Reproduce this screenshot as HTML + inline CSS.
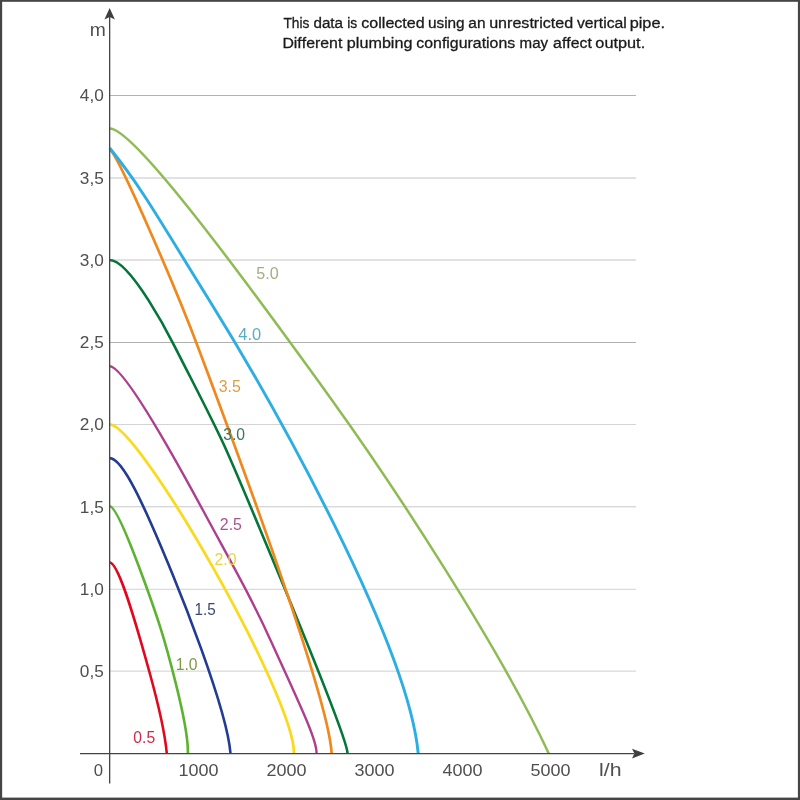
<!DOCTYPE html>
<html lang="en">
<head>
<meta charset="utf-8">
<title>Pump performance curves</title>
<style>
html,body{margin:0;padding:0;background:#fff;}
body{width:800px;height:800px;overflow:hidden;position:relative;font-family:"Liberation Sans",sans-serif;}
svg{position:absolute;left:0;top:0;display:block;}
text{font-family:"Liberation Sans",sans-serif;font-kerning:none;}
.ax{fill:#4f4f4f;}
.note{fill:#1a1a1a;stroke:#1a1a1a;stroke-width:0.3px;}
</style>
</head>
<body>
<svg width="800" height="800" viewBox="0 0 800 800">
<rect x="0" y="0" width="800" height="800" fill="#ffffff"/>
<!-- horizontal grid lines -->
<g fill="none">
<line x1="109.6" y1="95.50" x2="636" y2="95.50" stroke="#b2b2b2" stroke-width="1.00"/>
<line x1="109.6" y1="178.00" x2="636" y2="178.00" stroke="#c4c4c4" stroke-width="1.00"/>
<line x1="109.6" y1="260.00" x2="636" y2="260.00" stroke="#c4c4c4" stroke-width="1.00"/>
<line x1="109.6" y1="342.50" x2="636" y2="342.50" stroke="#b0b0b0" stroke-width="1.00"/>
<line x1="109.6" y1="424.50" x2="636" y2="424.50" stroke="#d4d4d4" stroke-width="1.00"/>
<line x1="109.6" y1="506.80" x2="636" y2="506.80" stroke="#c8c8c8" stroke-width="1.00"/>
<line x1="109.6" y1="589.30" x2="636" y2="589.30" stroke="#d2d2d2" stroke-width="1.00"/>
<line x1="109.6" y1="671.10" x2="636" y2="671.10" stroke="#cfcfcf" stroke-width="1.00"/>
</g>
<!-- pump curves -->
<g fill="none" stroke-linecap="butt" stroke-linejoin="round">
<path d="M109.70 128.50 C132.20 128.50 224.91 251.54 331.48 399.40 C392.18 483.60 500.20 648.53 548.75 753.50" stroke="#8fbb55" stroke-width="2.50"/>
<path d="M109.70 260.00 C130.75 260.00 171.71 340.55 174.24 345.54 C223.04 441.50 218.25 429.44 259.82 528.75 C273.49 561.41 348.20 739.45 347.50 753.50" stroke="#04763a" stroke-width="2.60"/>
<path d="M109.70 149.20 C118.25 155.57 174.02 283.19 199.27 350.43 C233.85 442.54 329.33 697.60 331.60 753.50" stroke="#ef881d" stroke-width="2.70"/>
<path d="M109.70 148.00 C141.97 187.96 158.70 218.79 209.43 300.50 C274.23 404.86 408.12 643.63 418.20 753.50" stroke="#2daee3" stroke-width="2.90"/>
<path d="M109.70 366.25 C123.48 366.25 170.11 449.46 202.81 510.00 C237.24 573.76 250.07 595.30 272.15 643.75 C301.23 707.57 317.14 740.66 316.50 753.50" stroke="#ad3f8e" stroke-width="2.40"/>
<path d="M109.70 424.40 C139.41 425.16 294.89 697.24 294.00 753.50" stroke="#f9da1c" stroke-width="2.80"/>
<path d="M109.70 458.10 C122.61 458.10 143.48 503.42 172.34 573.75 C175.42 581.24 226.88 706.78 230.50 753.50" stroke="#213c92" stroke-width="2.60"/>
<path d="M109.70 506.25 C120.00 506.25 158.83 622.65 160.85 629.04 C162.76 635.06 189.26 724.32 187.80 753.50" stroke="#5bb331" stroke-width="2.60"/>
<path d="M109.70 562.50 C117.77 563.03 131.35 606.42 149.56 672.50 C150.32 675.25 164.38 726.25 166.80 753.50" stroke="#e0081f" stroke-width="2.60"/>
</g>
<!-- curve labels -->
<g>
<text x="256.25" y="278.90" font-size="15.60" textLength="22.48" lengthAdjust="spacingAndGlyphs" fill="#9fb082">5.0</text>
<text x="238.37" y="340.00" font-size="15.60" textLength="22.87" lengthAdjust="spacingAndGlyphs" fill="#58adc3">4.0</text>
<text x="218.80" y="391.50" font-size="15.60" textLength="22.07" lengthAdjust="spacingAndGlyphs" fill="#dc9c48">3.5</text>
<text x="223.15" y="439.50" font-size="15.60" textLength="21.86" lengthAdjust="spacingAndGlyphs" fill="#34775a">3.0</text>
<text x="219.80" y="530.10" font-size="15.60" textLength="22.12" lengthAdjust="spacingAndGlyphs" fill="#a8578c">2.5</text>
<text x="214.50" y="564.50" font-size="15.60" textLength="22.02" lengthAdjust="spacingAndGlyphs" fill="#e6d640">2.0</text>
<text x="194.44" y="615.10" font-size="15.60" textLength="21.20" lengthAdjust="spacingAndGlyphs" fill="#3c4870">1.5</text>
<text x="175.71" y="669.60" font-size="15.60" textLength="21.81" lengthAdjust="spacingAndGlyphs" fill="#7d9a42">1.0</text>
<text x="133.39" y="743.00" font-size="15.60" textLength="21.77" lengthAdjust="spacingAndGlyphs" fill="#cc2a48">0.5</text>
</g>
<!-- axes -->
<g stroke="#454545" stroke-width="1.3" fill="none">
<line x1="109.65" y1="17" x2="109.65" y2="783.6"/>
<line x1="80" y1="753.6" x2="634" y2="753.6"/>
</g>
<polygon points="109.65,8 114.9,19.6 109.65,17 104.4,19.6" fill="#3f3f3f"/>
<polygon points="644.8,753.6 632,748.7 634.4,753.6 632,758.5" fill="#3f3f3f"/>
<!-- axis labels -->
<g>
<text x="79.80" y="101.30" font-size="17.00" textLength="23.97" lengthAdjust="spacingAndGlyphs" class="ax">4,0</text>
<text x="79.80" y="183.60" font-size="17.00" textLength="23.97" lengthAdjust="spacingAndGlyphs" class="ax">3,5</text>
<text x="79.80" y="265.90" font-size="17.00" textLength="23.97" lengthAdjust="spacingAndGlyphs" class="ax">3,0</text>
<text x="79.80" y="348.20" font-size="17.00" textLength="23.97" lengthAdjust="spacingAndGlyphs" class="ax">2,5</text>
<text x="79.80" y="430.40" font-size="17.00" textLength="23.97" lengthAdjust="spacingAndGlyphs" class="ax">2,0</text>
<text x="79.80" y="512.70" font-size="17.00" textLength="23.97" lengthAdjust="spacingAndGlyphs" class="ax">1,5</text>
<text x="79.80" y="595.00" font-size="17.00" textLength="23.97" lengthAdjust="spacingAndGlyphs" class="ax">1,0</text>
<text x="79.80" y="677.20" font-size="17.00" textLength="23.97" lengthAdjust="spacingAndGlyphs" class="ax">0,5</text>
<text x="93.75" y="776.40" font-size="17.00" textLength="9.31" lengthAdjust="spacingAndGlyphs" class="ax">0</text>
<text x="178.60" y="776.40" font-size="17.00" textLength="40.00" lengthAdjust="spacingAndGlyphs" class="ax">1000</text>
<text x="266.60" y="776.40" font-size="17.00" textLength="40.00" lengthAdjust="spacingAndGlyphs" class="ax">2000</text>
<text x="354.60" y="776.40" font-size="17.00" textLength="40.00" lengthAdjust="spacingAndGlyphs" class="ax">3000</text>
<text x="442.60" y="776.40" font-size="17.00" textLength="40.00" lengthAdjust="spacingAndGlyphs" class="ax">4000</text>
<text x="530.60" y="776.40" font-size="17.00" textLength="40.00" lengthAdjust="spacingAndGlyphs" class="ax">5000</text>
<text x="599.06" y="776.10" font-size="18.40" textLength="22.52" lengthAdjust="spacingAndGlyphs" class="ax">l/h</text>
<text x="89.72" y="35.80" font-size="17.80" textLength="16.05" lengthAdjust="spacingAndGlyphs" class="ax">m</text>
</g>
<!-- note -->
<g>
<text class="note" y="28.30" font-size="15.20"><tspan x="283.39" textLength="26.01" lengthAdjust="spacingAndGlyphs">This</tspan> <tspan x="313.46" textLength="29.54" lengthAdjust="spacingAndGlyphs">data</tspan> <tspan x="347.27" textLength="10.03" lengthAdjust="spacingAndGlyphs">is</tspan> <tspan x="361.32" textLength="63.32" lengthAdjust="spacingAndGlyphs">collected</tspan> <tspan x="427.90" textLength="36.79" lengthAdjust="spacingAndGlyphs">using</tspan> <tspan x="468.34" textLength="17.16" lengthAdjust="spacingAndGlyphs">an</tspan> <tspan x="489.15" textLength="84.08" lengthAdjust="spacingAndGlyphs">unrestricted</tspan> <tspan x="576.95" textLength="49.91" lengthAdjust="spacingAndGlyphs">vertical</tspan> <tspan x="629.65" textLength="35.34" lengthAdjust="spacingAndGlyphs">pipe.</tspan></text>
<text class="note" y="47.90" font-size="15.20"><tspan x="282.40" textLength="59.92" lengthAdjust="spacingAndGlyphs">Different</tspan> <tspan x="346.86" textLength="65.58" lengthAdjust="spacingAndGlyphs">plumbing</tspan> <tspan x="416.33" textLength="98.85" lengthAdjust="spacingAndGlyphs">configurations</tspan> <tspan x="519.60" textLength="28.53" lengthAdjust="spacingAndGlyphs">may</tspan> <tspan x="553.13" textLength="38.69" lengthAdjust="spacingAndGlyphs">affect</tspan> <tspan x="595.32" textLength="49.87" lengthAdjust="spacingAndGlyphs">output.</tspan></text>
</g>
<!-- frame -->
<g fill="#454545">
<rect x="0" y="0" width="800" height="1.8"/>
<rect x="0" y="0" width="2.15" height="800"/>
<rect x="797.9" y="0" width="2.1" height="800"/>
<rect x="0" y="797.6" width="800" height="2.4"/>
</g>
</svg>
</body>
</html>
